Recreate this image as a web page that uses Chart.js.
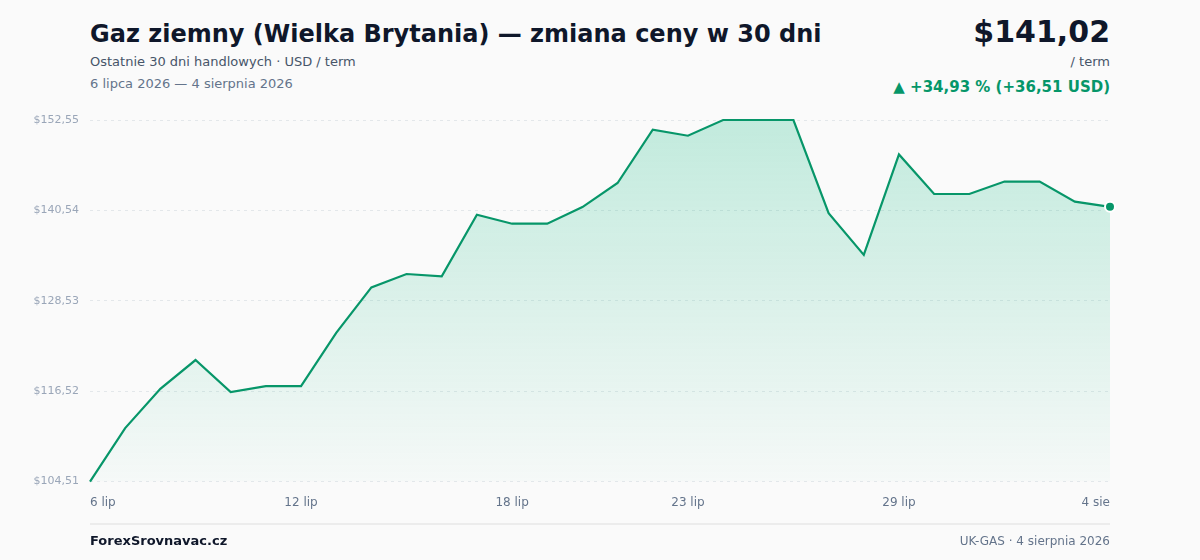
<!DOCTYPE html>
<html lang="pl">
<head>
<meta charset="utf-8">
<script src="https://cdn.jsdelivr.net/npm/chart.js@4/dist/chart.umd.min.js"></script>
<style>
  html, body { margin: 0; padding: 0; background: #fafafa; }
  body { width: 1200px; height: 560px; position: relative; overflow: hidden; font-family: "DejaVu Sans", sans-serif; }
  .title { position: absolute; left: 90px; top: 20px; font-size: 24px; font-weight: bold; color: #0f172a; }
  .sub { position: absolute; left: 90px; top: 54px; font-size: 13px; color: #475569; }
  .range { position: absolute; left: 90px; top: 76px; font-size: 13px; color: #64748b; }
  .price { position: absolute; right: 90px; top: 14px; font-size: 30px; font-weight: bold; color: #0f172a; }
  .unit { position: absolute; right: 90px; top: 54px; font-size: 13px; color: #475569; }
  .change { position: absolute; right: 90px; top: 78px; font-size: 15px; font-weight: bold; color: #059669; }
  .wrap { position: absolute; left: 0; top: 100px; width: 1200px; height: 435px; }
  .rule { position: absolute; left: 90px; top: 523px; width: 1020px; height: 2px; background: #ececec; }
  .brand { position: absolute; left: 90px; top: 533px; font-size: 13px; font-weight: bold; color: #0f172a; }
  .src { position: absolute; right: 90px; top: 534px; font-size: 12px; color: #64748b; }
</style>
</head>
<body>
<div class="title">Gaz ziemny (Wielka Brytania) — zmiana ceny w 30 dni</div>
<div class="sub">Ostatnie 30 dni handlowych · USD / term</div>
<div class="range">6 lipca 2026 — 4 sierpnia 2026</div>
<div class="price">$141,02</div>
<div class="unit">/ term</div>
<div class="change">▲ +34,93 % (+36,51 USD)</div>
<div class="wrap"><canvas id="chart"></canvas></div>
<div class="rule"></div>
<div class="brand">ForexSrovnavac.cz</div>
<div class="src">UK-GAS · 4 sierpnia 2026</div>

<script>
// Dates
const days = [
  "6 lip", "7 lip", "8 lip", "9 lip", "10 lip", "11 lip", "12 lip", "13 lip", "14 lip", "15 lip",
  "16 lip", "17 lip", "18 lip", "19 lip", "20 lip", "21 lip", "22 lip", "23 lip", "24 lip", "25 lip",
  "26 lip", "27 lip", "28 lip", "29 lip", "30 lip", "31 lip", "1 sie", "2 sie", "3 sie", "4 sie"
];

// Price in USD / term
const prices = [
  104.51, 111.62, 116.83, 120.66, 116.39, 117.19, 117.19, 124.26, 130.31, 132.09,
  131.77, 139.97, 138.77, 138.77, 140.98, 144.18, 151.26, 150.46, 152.55, 152.55,
  152.55, 140.18, 134.63, 147.97, 142.72, 142.72, 144.37, 144.37, 141.70, 141.02
];

// Ticks shown on the axes
const xTickLabels = ["6 lip", "12 lip", "18 lip", "23 lip", "29 lip", "4 sie"];
const yTicks = [104.51, 116.52, 128.53, 140.54, 152.55];

const green = "#079669";
const canvas = document.getElementById("chart");
const ctx = canvas.getContext("2d");

const fmt = v => "$" + v.toFixed(2).replace(".", ",");

new Chart(ctx, {
  type: "line",
  data: {
    labels: days,
    datasets: [{
      data: prices,
      borderColor: green,
      borderWidth: 2.2,
      tension: 0,
      fill: true,
      clip: false,
      backgroundColor: c => {
        const area = c.chart.chartArea;
        if (!area) return "rgba(16,185,129,0.15)";
        const g = c.chart.ctx.createLinearGradient(0, area.top, 0, area.bottom);
        g.addColorStop(0, "rgba(16,185,129,0.24)");
        g.addColorStop(1, "rgba(16,185,129,0.02)");
        return g;
      },
      pointRadius: prices.map((v, i) => i === prices.length - 1 ? 5 : 0),
      pointHoverRadius: 0,
      pointBackgroundColor: green,
      pointBorderColor: "#ffffff",
      pointBorderWidth: 2
    }]
  },
  options: {
    responsive: true,
    maintainAspectRatio: false,
    animation: false,
    layout: { padding: { top: 20, right: 90, bottom: 11, left: 0 } },
    plugins: { legend: { display: false }, tooltip: { enabled: false } },
    scales: {
      x: {
        grid: { display: false, drawTicks: false },
        border: { display: false },
        ticks: {
          autoSkip: false,
          maxRotation: 0,
          align: "inner",
          padding: 14,
          color: "#64748b",
          font: { family: "DejaVu Sans", size: 12 },
          callback: function (val) {
            const l = this.getLabelForValue(val);
            return xTickLabels.includes(l) ? l : "";
          }
        }
      },
      y: {
        min: yTicks[0],
        max: yTicks[yTicks.length - 1],
        afterFit: s => { s.width = 90; },
        afterBuildTicks: s => { s.ticks = yTicks.map(v => ({ value: v })); },
        border: { display: false, dash: [3, 4] },
        grid: { color: "#e3e7ea", drawTicks: false, lineWidth: 1 },
        ticks: {
          padding: 11,
          color: "#9aa6b8",
          font: { family: "DejaVu Sans", size: 11 },
          callback: v => fmt(v)
        }
      }
    }
  }
});
</script>
</body>
</html>
